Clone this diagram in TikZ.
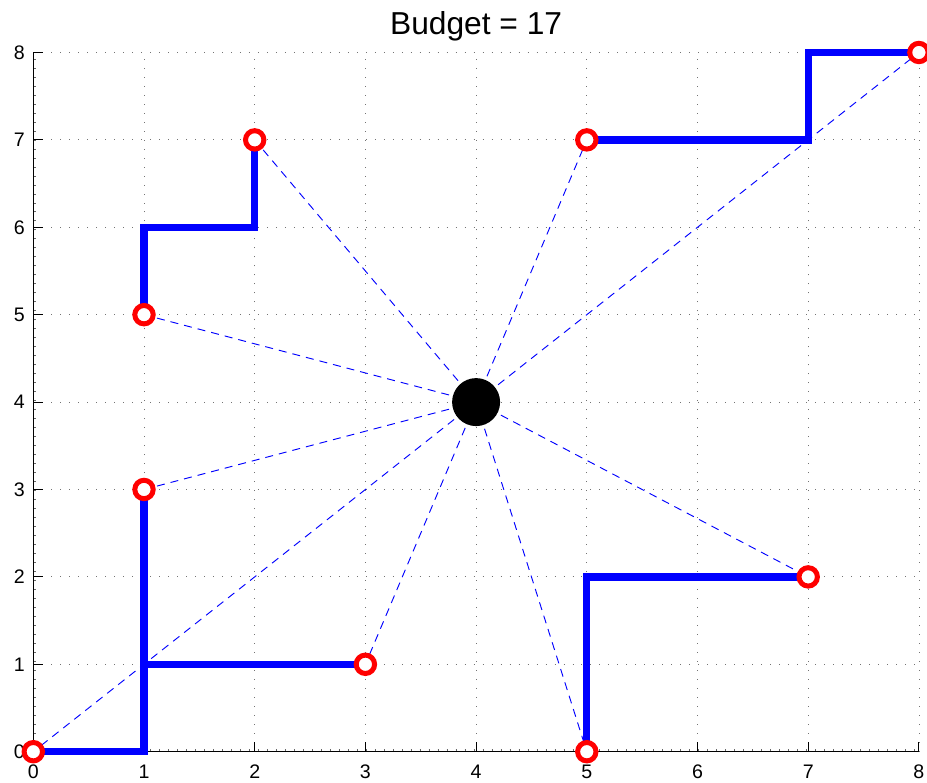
\documentclass[tikz,border=0pt]{standalone}
\usepackage{fontspec}
\setmainfont{Liberation Sans}
\begin{document}
\begin{tikzpicture}[x=83.025pt,y=65.55pt,
  gridline/.style={black!55, line width=0.6pt, dash pattern=on 0.75pt off 5.99pt},
  axisdots/.style={black!60, line width=2pt, dash pattern=on 0.75pt off 5.99pt},
  axisline/.style={black, line width=0.75pt},
  route/.style={blue, line width=5.5pt, line join=miter},
  ray/.style={blue, line width=0.7pt, dash pattern=on 6pt off 4.5pt},
  site/.style={circle, draw=red, fill=white, line width=3.75pt, minimum size=13.8pt, inner sep=0pt},
  hubdot/.style={circle, fill=black, minimum size=36pt, inner sep=0pt},
  ticklabel/.style={font=\fontsize{14.7}{16}\selectfont, inner sep=0pt},
  titlelabel/.style={font=\fontsize{23.8}{26}\selectfont, inner sep=0pt, anchor=base}]
\useasboundingbox (-0.3008,-0.3581) rectangle (8.0732,8.6007);
% grid
\foreach \k in {1,...,8} {
  \draw[gridline] (\k,0) -- (\k,8);
  \draw[gridline] (0,\k) -- (8,\k);
}
\draw[axisdots] ([yshift=1.3pt]0,0) -- ([yshift=1.3pt]8,0);
\draw[axisdots] ([xshift=1.3pt]0,0) -- ([xshift=1.3pt]0,8);
% axes
\draw[axisline] (0,8) -- (0,0) -- (8,0);
\foreach \k in {0,...,8} {
  \draw[axisline] (\k,0) -- (\k,0.114);
  \draw[axisline] (0,\k) -- (0.09,\k);
  \node[ticklabel, anchor=base] (xl\k) at (\k,-0.301) {\k};
  \node[ticklabel, anchor=east] (yl\k) at (-0.075,\k) {\k};
}
% positions
\coordinate (h) at (4,4);
\coordinate (p1) at (0,0);
\coordinate (p2) at (1,3);
\coordinate (p3) at (3,1);
\coordinate (p4) at (1,5);
\coordinate (p5) at (2,7);
\coordinate (p6) at (5,7);
\coordinate (p7) at (8,8);
\coordinate (p8) at (5,0);
\coordinate (p9) at (7,2);
\coordinate (k1) at (1,0);
\coordinate (k2) at (1,1);
\coordinate (k3) at (1,6);
\coordinate (k4) at (2,6);
\coordinate (k5) at (7,7);
\coordinate (k6) at (7,8);
\coordinate (k7) at (5,2);
% rays
\foreach \i in {1,...,9} {
  \draw[ray] (h) -- (p\i);
}
% routes
\draw[route] (p1) -- (k1) -- (p2);
\draw[route] (k2) -- (p3);
\draw[route] (p4) -- (k3) -- (k4) -- (p5);
\draw[route] (p6) -- (k5) -- (k6) -- (p7);
\draw[route] (p8) -- (k7) -- (p9);
% sites
\foreach \i in {1,...,9} {
  \node[site] (s\i) at (p\i) {};
}
\node[hubdot] (hub) at (h) {};
\node[titlelabel] (title) at (4,8.208) {Budget = 17};
\end{tikzpicture}
\end{document}
